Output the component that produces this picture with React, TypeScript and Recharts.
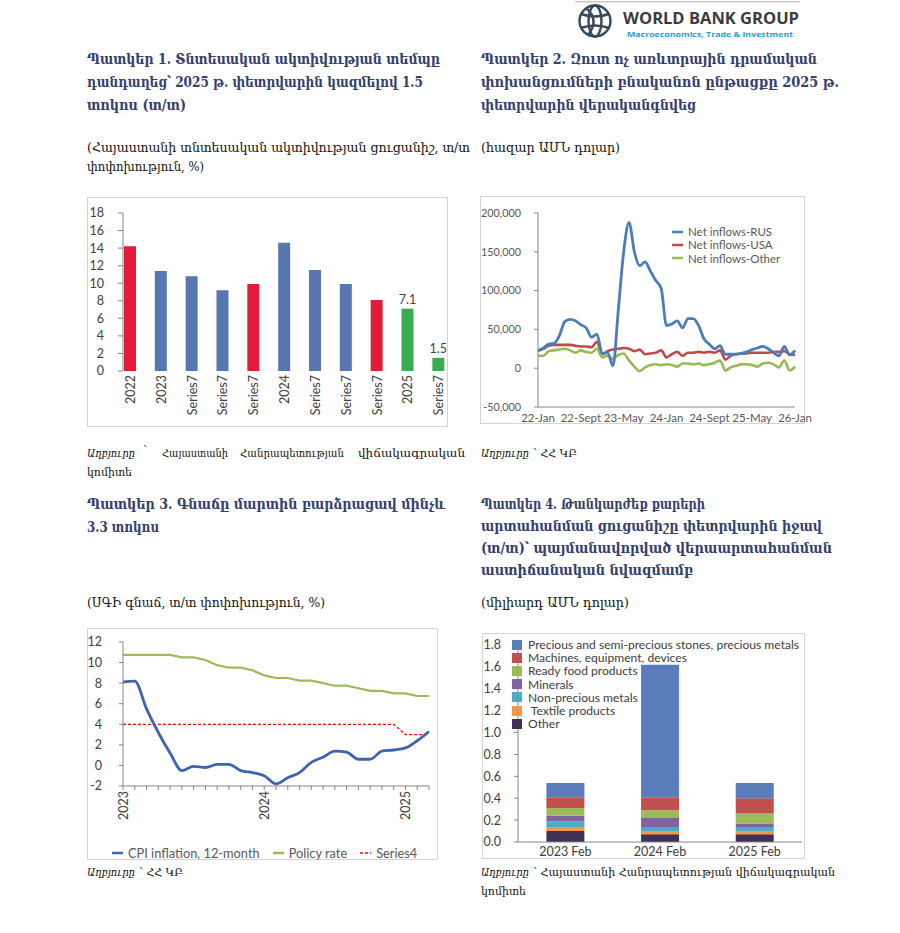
import React from "react";
import { BarChart, Bar, LineChart, Line, XAxis, YAxis, Cell, LabelList } from "recharts";

// ---- Figure 1: economic activity growth, y/y % ----
const GROWTH_CATS = ["2022", "2023", "Series7", "Series7", "Series7", "2024", "Series7", "Series7", "Series7", "2025", "Series7"];
const GROWTH_VALUES = [14.2, 11.4, 10.8, 9.2, 9.9, 14.6, 11.5, 9.9, 8.1, 7.1, 1.5];
const GROWTH_KIND = ["annual", "period", "period", "period", "annual", "period", "period", "period", "annual", "latest", "latest"];
const GROWTH_TICKS = [0, 2, 4, 6, 8, 10, 12, 14, 16, 18];

// ---- Figure 2: net non-commercial transfers, thousand USD ----
const INFLOW_MONTHS = [
  "22-Jan", "22-Feb", "22-Mar", "22-Apr", "22-May", "22-Jun", "22-Jul", "22-Aug", "22-Sept", "22-Oct", "22-Nov", "22-Dec",
  "23-Jan", "23-Feb", "23-Mar", "23-Apr", "23-May", "23-Jun", "23-Jul", "23-Aug", "23-Sept", "23-Oct", "23-Nov", "23-Dec",
  "24-Jan", "24-Feb", "24-Mar", "24-Apr", "24-May", "24-Jun", "24-Jul", "24-Aug", "24-Sept", "24-Oct", "24-Nov", "24-Dec",
  "25-Jan", "25-Feb", "25-Mar", "25-Apr", "25-May", "25-Jun", "25-Jul", "25-Aug", "25-Sept", "25-Oct", "25-Nov", "25-Dec",
  "26-Jan",
];
const INFLOW_RUS = [
  22000, 26000, 31000, 32000, 42000, 60000, 63000, 61000, 56000, 52000, 40000, 44000, 19000, 20000, 3000, 75000,
  150000, 188000, 150000, 132000, 137000, 125000, 113000, 103000, 55000, 57000, 61000, 52000, 64000, 64000, 55000, 38000,
  31000, 25000, 29000, 18000, 18000, 18000, 19000, 21000, 24000, 26000, 28000, 25000, 20000, 16000, 28000, 17000, 23000,
];
const INFLOW_USA = [
  23000, 25000, 29000, 30000, 30000, 30000, 30000, 29000, 28000, 28000, 27000, 34000, 18000, 22000, 24000, 25000,
  26000, 25000, 22000, 24000, 18000, 19000, 20000, 23000, 14000, 18000, 21000, 16000, 20000, 20000, 21000, 20000,
  21000, 20000, 23000, 11000, 16000, 18000, 19000, 19000, 20000, 20000, 20000, 20000, 21000, 21000, 22000, 18000, 17000,
];
const INFLOW_OTHER = [
  16000, 16000, 22000, 23000, 24000, 25000, 23000, 20000, 23000, 21000, 20000, 25000, 14000, 16000, 12000, 17000,
  19000, 10000, 2000, -4000, 1000, 4000, 5000, 4000, 5000, 4000, 2000, 6000, 6000, 5000, 6000, 4000,
  5000, 7000, 10000, -3000, 1000, 3000, 5000, 5000, 4000, 2000, 6000, 7000, 5000, 1000, 10000, -3000, 2000,
];
const INFLOW_TICKS = [-50000, 0, 50000, 100000, 150000, 200000];

// ---- Figure 3: CPI inflation and policy rate, % ----
const CPI_MONTHS = [
  "2023-01", "2023-02", "2023-03", "2023-04", "2023-05", "2023-06", "2023-07", "2023-08", "2023-09", "2023-10", "2023-11", "2023-12",
  "2024-01", "2024-02", "2024-03", "2024-04", "2024-05", "2024-06", "2024-07", "2024-08", "2024-09", "2024-10", "2024-11", "2024-12",
  "2025-01", "2025-02", "2025-03",
];
const CPI_INFLATION = [8.1, 8.2, 5.5, 3.2, 1.2, -0.5, -0.1, -0.2, 0.1, 0.1, -0.5, -0.7, -1.0, -1.8, -1.2, -0.7, 0.3, 0.8, 1.4, 1.3, 0.6, 0.6, 1.4, 1.5, 1.7, 2.4, 3.3];
const POLICY_RATE = [10.75, 10.75, 10.75, 10.75, 10.75, 10.5, 10.5, 10.25, 9.75, 9.5, 9.5, 9.25, 8.75, 8.5, 8.5, 8.25, 8.25, 8.0, 7.75, 7.75, 7.5, 7.25, 7.25, 7.0, 7.0, 6.75, 6.75];
const SERIES4 = [4, 4, 4, 4, 4, 4, 4, 4, 4, 4, 4, 4, 4, 4, 4, 4, 4, 4, 4, 4, 4, 4, 4, 4, 3, 3, 3];
const CPI_TICKS = [-2, 0, 2, 4, 6, 8, 10, 12];

// ---- Figure 4: exports by product, billion USD ----
const EXPORT_PERIODS = ["2023 Feb", "2024 Feb", "2025 Feb"];
const EXP_OTHER = [0.1, 0.07, 0.07];
const EXP_TEXTILE = [0.03, 0.03, 0.03];
const EXP_NONPRECIOUS = [0.06, 0.03, 0.03];
const EXP_MINERALS = [0.05, 0.09, 0.04];
const EXP_FOOD = [0.07, 0.07, 0.09];
const EXP_MACHINES = [0.1, 0.12, 0.14];
const EXP_PRECIOUS = [0.13, 1.21, 0.14];
const EXPORT_TICKS = [0, 0.2, 0.4, 0.6, 0.8, 1.0, 1.2, 1.4, 1.6, 1.8];

const ARM = "'DejaVu Serif', serif";
const CF = "Lato, 'Open Sans', sans-serif";
const NAVY = "#34406f";
const AXIS = "#868686";
const LBL = "#595959";

const KIND_COLOR = { annual: "#e31b3a", period: "#5877b0", latest: "#3bab51" };

const EXPORT_SERIES = [
  { key: "precious", name: "Precious and semi-precious stones, precious metals", color: "#5a7cb8", values: EXP_PRECIOUS },
  { key: "machines", name: "Machines, equipment, devices", color: "#c0504d", values: EXP_MACHINES },
  { key: "food", name: "Ready food products", color: "#9bbb59", values: EXP_FOOD },
  { key: "minerals", name: "Minerals", color: "#8064a2", values: EXP_MINERALS },
  { key: "nonprecious", name: "Non-precious metals", color: "#4bacc6", values: EXP_NONPRECIOUS },
  { key: "textile", name: " Textile products", color: "#f79646", values: EXP_TEXTILE },
  { key: "other", name: "Other", color: "#3f3151", values: EXP_OTHER },
];

function Frame({ x, y, w, h, children }: any) {
  return (
    <div style={{ position: "absolute", left: x, top: y, width: w, height: h, outline: "1px solid #d4d4d4", outlineOffset: -1 }}>
      {children}
    </div>
  );
}

function T({ x, y, w, size = 12, bold = false, italic = false, color = "#111", family = ARM, children }: any) {
  return (
    <text
      x={x}
      y={y}
      textLength={w}
      lengthAdjust="spacingAndGlyphs"
      fontSize={size}
      fontWeight={bold ? 700 : 400}
      fontStyle={italic ? "italic" : "normal"}
      fill={color}
      fontFamily={family}
    >
      {children}
    </text>
  );
}

function GrowthChart() {
  const data = GROWTH_VALUES.map((v, i) => ({
    i,
    v,
    kind: GROWTH_KIND[i],
    note: GROWTH_KIND[i] === "latest" ? v.toFixed(1) : "",
  }));
  return (
    <BarChart width={361} height={230} data={data} margin={{ top: 16, right: 0, left: 6, bottom: 0 }}>
      <XAxis
        dataKey="i"
        type="number"
        domain={[-0.24, 10.3]}
        ticks={GROWTH_VALUES.map((_, i) => i)}
        interval={0}
        axisLine={false}
        tickLine={false}
        tickSize={0}
        tickMargin={4}
        height={56}
        tick={(p: any) => (
          <text
            x={p.x}
            y={p.y}
            transform={`rotate(-90 ${p.x} ${p.y})`}
            textAnchor="end"
            dominantBaseline="central"
            fontSize={12.5}
            fontFamily={CF}
            fill="#404040"
          >
            {GROWTH_CATS[p.payload.value]}
          </text>
        )}
      />
      <YAxis
        width={30}
        domain={[0, 18]}
        ticks={GROWTH_TICKS}
        interval={0}
        stroke={AXIS}
        tickSize={5}
        tickMargin={14}
        tick={{ fontSize: 12.5, fontFamily: CF, fill: "#404040" }}
      />
      <Bar dataKey="v" barSize={12} isAnimationActive={false}>
        {data.map((d, i) => (
          <Cell key={i} fill={KIND_COLOR[d.kind]} />
        ))}
        <LabelList dataKey="note" position="top" offset={5} style={{ fontSize: 12.5, fontFamily: CF, fill: "#404040" }} />
      </Bar>
    </BarChart>
  );
}

function InflowChart() {
  const data = INFLOW_MONTHS.map((m, i) => ({ m, rus: INFLOW_RUS[i], usa: INFLOW_USA[i], other: INFLOW_OTHER[i] }));
  return (
    <LineChart width={350} height={228} data={data} margin={{ top: 17, right: 27, left: 14, bottom: 0 }}>
      <XAxis
        dataKey="m"
        interval={7}
        stroke={AXIS}
        tickLine={false}
        tickSize={0}
        tickMargin={7}
        height={17}
        tick={{ fontSize: 11.5, fontFamily: CF, fill: LBL }}
      />
      <YAxis
        width={52}
        domain={[-50000, 200000]}
        ticks={INFLOW_TICKS}
        interval={0}
        stroke={AXIS}
        tickSize={4}
        tickMargin={13}
        tickFormatter={(v: number) => v.toLocaleString("en-US")}
        tick={{ fontSize: 10.8, fontFamily: CF, fill: LBL }}
      />
      <Line dataKey="usa" type="monotone" stroke="#be4b48" strokeWidth={2.6} dot={false} isAnimationActive={false} />
      <Line dataKey="other" type="monotone" stroke="#98b954" strokeWidth={2.6} dot={false} isAnimationActive={false} />
      <Line dataKey="rus" type="monotone" stroke="#4a7ebb" strokeWidth={2.8} dot={false} isAnimationActive={false} />
    </LineChart>
  );
}

function InflationChart() {
  const data = CPI_MONTHS.map((m, i) => ({ m, cpi: CPI_INFLATION[i], policy: POLICY_RATE[i], s4: SERIES4[i] }));
  return (
    <LineChart width={351} height={232} data={data} margin={{ top: 14, right: 9, left: 6, bottom: 0 }}>
      <XAxis
        dataKey="m"
        interval={0}
        stroke={AXIS}
        tickSize={4}
        tickMargin={1}
        height={74}
        tick={(p: any) =>
          p.payload.value.endsWith("-01") ? (
            <text
              x={p.x}
              y={p.y}
              transform={`rotate(-90 ${p.x} ${p.y})`}
              textAnchor="end"
              dominantBaseline="central"
              fontSize={12.5}
              fontFamily={CF}
              fill="#404040"
            >
              {p.payload.value.slice(0, 4)}
            </text>
          ) : (
            <g />
          )
        }
      />
      <YAxis
        width={30}
        domain={[-2, 12]}
        ticks={CPI_TICKS}
        interval={0}
        stroke={AXIS}
        tickSize={4}
        tickMargin={17}
        tick={{ fontSize: 12.5, fontFamily: CF, fill: "#404040" }}
      />
      <Line dataKey="policy" type="linear" stroke="#9bbb59" strokeWidth={2.2} dot={false} isAnimationActive={false} />
      <Line dataKey="s4" type="linear" stroke="#ff0000" strokeWidth={1.3} strokeDasharray="3 2" dot={false} isAnimationActive={false} />
      <Line dataKey="cpi" type="monotone" stroke="#3c65ad" strokeWidth={2.8} dot={false} isAnimationActive={false} />
    </LineChart>
  );
}

function ExportChart() {
  const data = EXPORT_PERIODS.map((p, i) => {
    const row: any = { p };
    EXPORT_SERIES.forEach((s) => (row[s.key] = s.values[i]));
    return row;
  });
  const stackOrder = [...EXPORT_SERIES].reverse();
  return (
    <BarChart width={323} height={226} data={data} margin={{ top: 12, right: 3, left: 6, bottom: 0 }} barCategoryGap="30%">
      <XAxis
        dataKey="p"
        stroke={AXIS}
        tickLine={false}
        tickSize={0}
        tickMargin={5}
        height={17}
        tick={{ fontSize: 12.5, fontFamily: CF, fill: "#404040" }}
      />
      <YAxis
        width={30}
        domain={[0, 1.8]}
        ticks={EXPORT_TICKS}
        interval={0}
        stroke={AXIS}
        tickSize={4}
        tickMargin={13}
        tickFormatter={(v: number) => v.toFixed(1)}
        tick={{ fontSize: 12.5, fontFamily: CF, fill: "#404040" }}
      />
      {stackOrder.map((s) => (
        <Bar key={s.key} dataKey={s.key} stackId="x" fill={s.color} isAnimationActive={false} />
      ))}
    </BarChart>
  );
}

function LineKey({ color, dash, label, width = 11 }: any) {
  return (
    <div style={{ display: "flex", alignItems: "center", whiteSpace: "nowrap" }}>
      <svg width={width} height={4} style={{ marginRight: 5 }}>
        <line x1={0} y1={2} x2={width} y2={2} stroke={color} strokeWidth={dash ? 1.5 : 2.5} strokeDasharray={dash ? "3 2" : undefined} />
      </svg>
      <span>{label}</span>
    </div>
  );
}

function Logo() {
  return (
    <g>
      <rect x={575} y={1} width={225} height={1.5} fill="#c9c9c9" />
      <g fill="none" stroke="#34495e" strokeWidth={2.4}>
        <circle cx={595} cy={21} r={15.5} />
        <ellipse cx={595} cy={21} rx={6.5} ry={15.5} />
        <path d="M581 14 Q595 19 609 14" />
        <path d="M581 28 Q595 23 609 28" />
        <path d="M586 8 Q600 20 588 35" />
      </g>
      <T x={623} y={24} w={176} size={16.5} bold family="'Open Sans', sans-serif" color="#3b3b3b">
        WORLD BANK GROUP
      </T>
      <T x={627} y={36.5} w={166} size={7.8} bold family="'Open Sans', sans-serif" color="#2b9bd8">
        Macroeconomics, Trade &amp; Investment
      </T>
    </g>
  );
}

export default function App() {
  return (
    <div style={{ position: "absolute", left: 0, top: 0, width: 900, height: 933, background: "#fff", overflow: "hidden" }}>
      <svg width={900} height={933} style={{ position: "absolute", left: 0, top: 0 }}>
        <Logo />
        {/* titles, top row */}
        <T x={87} y={64} w={353} size={15} bold color={NAVY}>Պատկեր 1. Տնտեսական ակտիվության տեմպը</T>
        <T x={87} y={87} w={336} size={15} bold color={NAVY}>դանդաղեց՝ 2025 թ. փետրվարին կազմելով  1.5</T>
        <T x={87} y={110} w={99} size={15} bold color={NAVY}>տոկոս (տ/տ)</T>
        <T x={87} y={152} w={383} size={12}>(Հայաստանի տնտեսական ակտիվության ցուցանիշ, տ/տ</T>
        <T x={87} y={171} w={117} size={12}>փոփոխություն, %)</T>

        <T x={481} y={64} w={336} size={15} bold color={NAVY}>Պատկեր 2.  Զուտ ոչ առևտրային դրամական</T>
        <T x={481} y={87} w={358} size={15} bold color={NAVY}>փոխանցումների բնականոն ընթացքը 2025 թ.</T>
        <T x={481} y={110} w={215} size={15} bold color={NAVY}>փետրվարին վերականգնվեց</T>
        <T x={481} y={152} w={139} size={12}>(հազար ԱՄՆ դոլար)</T>

        {/* sources, top row */}
        <T x={87} y={457} w={48} size={11.5} italic>Աղբյուրը</T>
        <T x={143} y={454} w={4} size={11.5}>՝</T>
        <T x={162} y={457} w={66} size={11.5}>Հայաստանի</T>
        <T x={240} y={457} w={104} size={11.5}>Հանրապետության</T>
        <T x={358} y={457} w={107} size={11.5}>վիճակագրական</T>
        <T x={87} y={476} w={45} size={11.5}>կոմիտե</T>

        <T x={481} y={457} w={48} size={11.5} italic>Աղբյուրը</T>
        <T x={533} y={457} w={44} size={11.5}>՝ ՀՀ ԿԲ</T>

        {/* titles, bottom row */}
        <T x={87} y={509} w={358} size={15} bold color={NAVY}>Պատկեր 3. Գնաճը մարտին բարձրացավ մինչև</T>
        <T x={87} y={532} w={72} size={15} bold color={NAVY}>3.3 տոկոս</T>
        <T x={87} y={607} w={238} size={12}>(ՍԳԻ գնաճ, տ/տ փոփոխություն, %)</T>

        <T x={481} y={509} w={224} size={15} bold color={NAVY}>Պատկեր 4. Թանկարժեք քարերի</T>
        <T x={481} y={531} w={341} size={15} bold color={NAVY}>արտահանման ցուցանիշը փետրվարին իջավ</T>
        <T x={481} y={553} w={351} size={15} bold color={NAVY}>(տ/տ)՝ պայմանավորված վերաարտահանման</T>
        <T x={481} y={575} w={212} size={15} bold color={NAVY}>աստիճանական  նվազմամբ</T>
        <T x={481} y={607} w={148} size={12}>(միլիարդ ԱՄՆ դոլար)</T>

        {/* sources, bottom row */}
        <T x={87} y={876} w={48} size={11.5} italic>Աղբյուրը</T>
        <T x={139} y={876} w={44} size={11.5}>՝ ՀՀ ԿԲ</T>
        <T x={481} y={876} w={48} size={11.5} italic>Աղբյուրը</T>
        <T x={533} y={876} w={302} size={11.5}>՝ Հայաստանի Հանրապետության վիճակագրական</T>
        <T x={481} y={895} w={45} size={11.5}>կոմիտե</T>
      </svg>

      <Frame x={480} y={196} w={325} h={228} />
      <div style={{ position: "absolute", left: 472, top: 196, width: 350, height: 228 }}>
        <InflowChart />
        <div style={{ position: "absolute", left: 200, top: 29, fontFamily: CF, fontSize: 11.5, color: LBL, lineHeight: "13.3px" }}>
          <LineKey color="#4a7ebb" label="Net inflows-RUS" />
          <LineKey color="#be4b48" label="Net inflows-USA" />
          <LineKey color="#98b954" label="Net inflows-Other" />
        </div>
      </div>

      <Frame x={87} y={197} w={361} h={230}>
        <GrowthChart />
      </Frame>

      <Frame x={87} y={628} w={351} h={232}>
        <InflationChart />
        <div style={{ position: "absolute", left: 25, top: 218, display: "flex", gap: 13, fontFamily: CF, fontSize: 12.8, color: LBL, lineHeight: "14px" }}>
          <LineKey color="#3c65ad" label="CPI inflation, 12-month" />
          <LineKey color="#9bbb59" label="Policy rate" />
          <LineKey color="#ff0000" dash label="Series4" />
        </div>
      </Frame>

      <Frame x={482} y={633} w={323} h={226}>
        <ExportChart />
        <div style={{ position: "absolute", left: 30, top: 5, fontFamily: CF, fontSize: 12.1, color: "#404040", lineHeight: "13.2px" }}>
          {EXPORT_SERIES.map((s) => (
            <div key={s.key} style={{ display: "flex", alignItems: "center", whiteSpace: "pre" }}>
              <span style={{ width: 10, height: 10, background: s.color, marginRight: 6, display: "inline-block" }} />
              <span>{s.name}</span>
            </div>
          ))}
        </div>
      </Frame>
    </div>
  );
}
